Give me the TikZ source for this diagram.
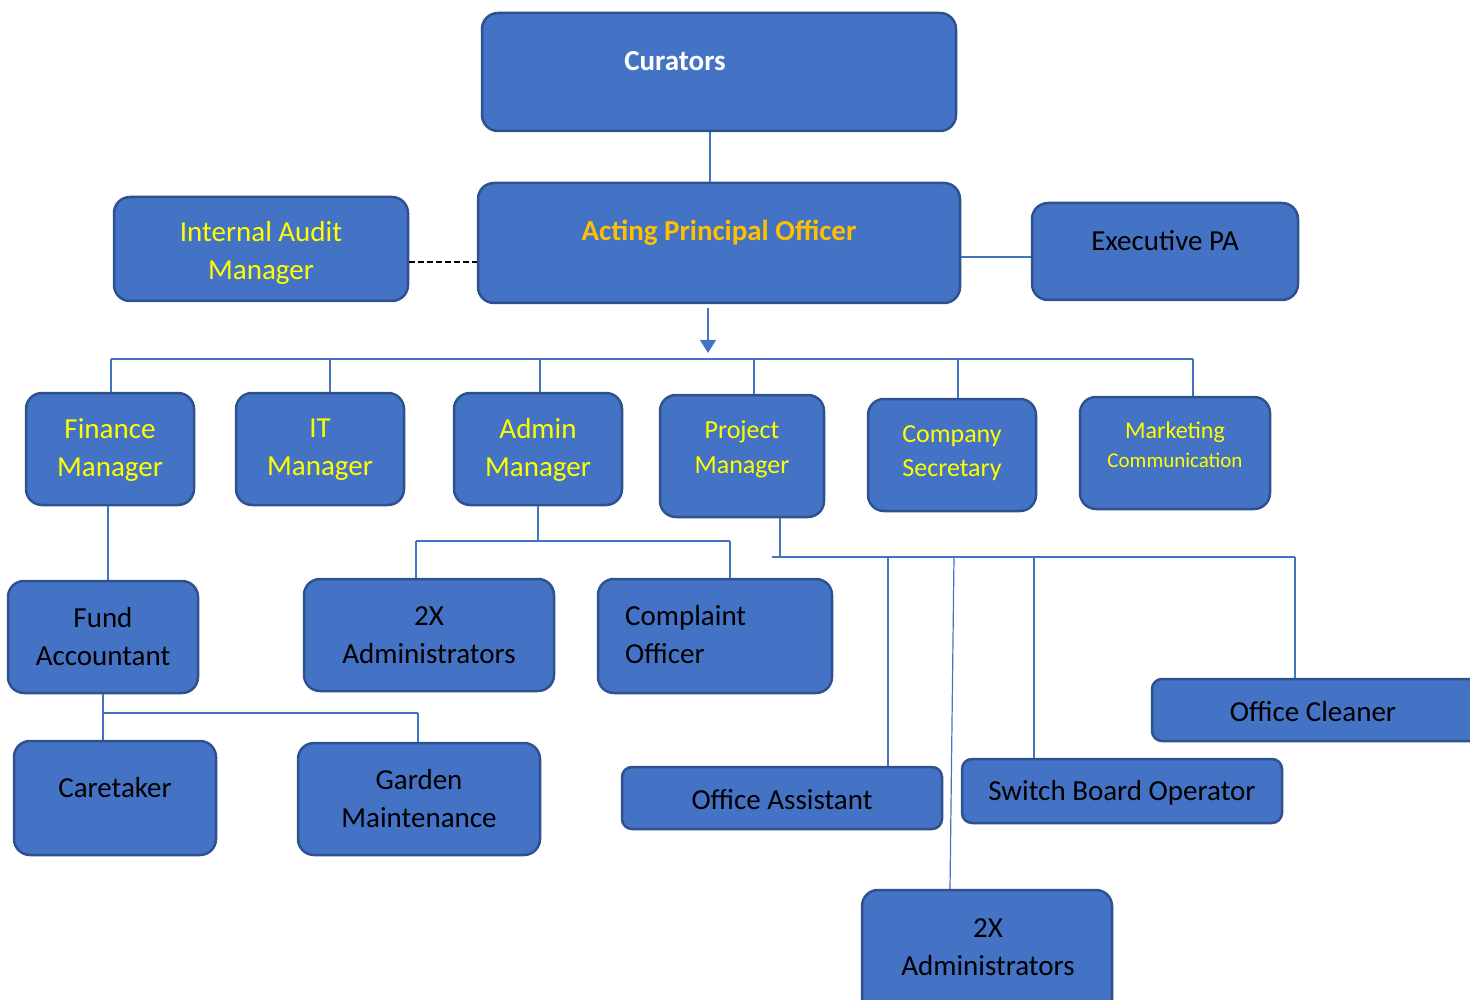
\documentclass[tikz,border=0pt]{standalone}
\usepackage{fontspec}
\setmainfont{Carlito}
\usetikzlibrary{arrows.meta}

\definecolor{boxfill}{HTML}{4472C4}
\definecolor{boxedge}{HTML}{2F528F}
\definecolor{linkblue}{HTML}{4472C4}
\definecolor{txtyellow}{HTML}{FFFF00}
\definecolor{txtorange}{HTML}{FFC000}

\begin{document}
\begin{tikzpicture}[x=1pt,y=-1pt,
  box/.style={draw=boxedge, fill=boxfill, line width=2.5pt, rounded corners=16pt, inner sep=0pt},
  link/.style={draw=linkblue, line width=1.2pt},
  dashline/.style={draw=black, line width=2.4pt, dash pattern=on 6pt off 3pt},
  bigtxt/.style={font=\fontsize{29}{38}\selectfont, align=center, inner sep=0pt},
  midtxt/.style={font=\fontsize{26}{35}\selectfont, align=center, inner sep=0pt}]

\useasboundingbox (0,0) rectangle (1470,1000);
\clip (0,0) rectangle (1470,1000);

\node[box, minimum width=474pt, minimum height=118pt] (cur) at (719,72) {};
\node[box, minimum width=482pt, minimum height=120pt] (apo) at (719,243) {};
\node[box, minimum width=294pt, minimum height=104pt] (iam) at (261,249) {};
\node[box, minimum width=266pt, minimum height=97pt] (epa) at (1165,251.5) {};

\node[box, minimum width=168pt, minimum height=112pt] (fm) at (110,449) {};
\node[box, minimum width=168pt, minimum height=112pt] (itm) at (320,449) {};
\node[box, minimum width=168pt, minimum height=112pt] (am) at (538,449) {};
\node[box, minimum width=164pt, minimum height=122pt] (pm) at (742,456) {};
\node[box, minimum width=168pt, minimum height=112pt] (cs) at (952,455) {};
\node[box, minimum width=190pt, minimum height=112pt] (mc) at (1175,453) {};

\node[box, minimum width=190pt, minimum height=112pt] (fa) at (103,637) {};
\node[box, minimum width=250pt, minimum height=112pt] (adm1) at (429,635) {};
\node[box, minimum width=234pt, minimum height=114pt] (co) at (715,636) {};

\node[box, minimum width=202pt, minimum height=114pt] (ct) at (115,798) {};
\node[box, minimum width=242pt, minimum height=112pt] (gm) at (419,799) {};
\node[box, minimum width=328pt, minimum height=62pt, rounded corners=10pt] (ocl) at (1316,710) {};
\node[box, minimum width=320pt, minimum height=62pt, rounded corners=10pt] (oa) at (782,798) {};
\node[box, minimum width=320pt, minimum height=64pt, rounded corners=10pt] (sbo) at (1122,791) {};
\node[box, minimum width=250pt, minimum height=140pt] (adm2) at (987,960) {};

% labels
\node[bigtxt, text=white, font=\fontsize{29}{38}\selectfont\bfseries] (curT) at (675,61) {Curators};
\node[bigtxt, text=txtorange, font=\fontsize{29}{38}\selectfont\bfseries] (apoT) at (719,233) {Acting Principal Officer};
\node[bigtxt, text=txtyellow] (iamT) at (261,253) {Internal Audit\\Manager};
\node[bigtxt] (epaT) at (1165,241) {Executive PA};

\node[bigtxt, text=txtyellow] (fmT) at (110,450) {Finance\\Manager};
\node[bigtxt, text=txtyellow] (itmT) at (320,450) {IT\\Manager};
\node[bigtxt, text=txtyellow] (amT) at (538,450) {Admin\\Manager};
\node[midtxt, text=txtyellow] (pmT) at (742,449) {Project\\Manager};
\node[midtxt, text=txtyellow, font=\fontsize{26}{34}\selectfont] (csT) at (952,453) {Company\\Secretary};
\node[midtxt, text=txtyellow, font=\fontsize{24}{29}\selectfont] (mcT) at (1175,445) {Marketing\\{\fontsize{21}{29}\selectfont Communication}};

\node[bigtxt] (faT) at (103,637) {Fund\\Accountant};
\node[bigtxt] (adm1T) at (429,635) {2X\\Administrators};
\node[bigtxt, align=left, anchor=west] (coT) at (625,635) {Complaint\\Officer};

\node[bigtxt] (ctT) at (115,788) {Caretaker};
\node[bigtxt] (gmT) at (419,799) {Garden\\Maintenance};
\node[bigtxt] (oclT) at (1313,712) {Office Cleaner};
\node[bigtxt] (oaT) at (782,800) {Office Assistant};
\node[bigtxt] (sboT) at (1122,793) {Switch Board Operator};
\node[bigtxt] (adm2T) at (988,947) {2X\\Administrators};

% bus lines
\coordinate (busL) at (111,359);
\coordinate (busR) at (1193,359);
\coordinate (amL) at (416,541);
\coordinate (amR) at (730,541);
\coordinate (pmL) at (772,557);
\coordinate (pmR) at (1295,557);
\coordinate (faL) at (104,713);
\coordinate (faR) at (418,713);

\draw[link] ([xshift=-9pt]cur.south) -- ([xshift=-9pt]apo.north);
\draw[dashline] ([yshift=-13pt]iam.east) -- ([yshift=-13pt]iam.east -| apo.west);
\draw[link] ([yshift=-14pt]apo.east) -- ([yshift=-14pt]apo.east -| epa.west);
\draw[link, -{Triangle[width=16pt,length=13pt]}] ([xshift=-11pt,yshift=-4pt]apo.south) -- ([xshift=-11pt,yshift=6pt]apo.south |- busL);

\draw[link] (busL) -- (busR);
\draw[link] (busL) -- (busL |- fm.north);
\draw[link] ([xshift=10pt]itm.north |- busL) -- ([xshift=10pt]itm.north);
\draw[link] ([xshift=2pt]am.north |- busL) -- ([xshift=2pt]am.north);
\draw[link] ([xshift=12pt]pm.north |- busL) -- ([xshift=12pt]pm.north);
\draw[link] ([xshift=6pt]cs.north |- busL) -- ([xshift=6pt]cs.north);
\draw[link] (busR) -- (busR |- mc.north);

\draw[link] ([xshift=-2pt]fm.south) -- ([xshift=-2pt]fm.south |- fa.north);

\draw[link] (am.south) -- (am.south |- amL);
\draw[link] (amL) -- (amR);
\draw[link] (amL) -- (amL |- adm1.north);
\draw[link] (amR) -- (amR |- co.north);

\draw[link] ([xshift=38pt]pm.south) -- ([xshift=38pt]pm.south |- pmL);
\draw[link] (pmL) -- (pmR);
\draw[link] ([xshift=106pt]oa.north |- pmL) -- ([xshift=106pt]oa.north);
\draw[link] ([xshift=-33pt]adm2.north |- pmL) -- ([xshift=-37pt]adm2.north);
\draw[link] ([xshift=-88pt]sbo.north |- pmL) -- ([xshift=-88pt]sbo.north);
\draw[link] (pmR) -- (pmR |- ocl.north);

\draw[link] (fa.south) -- (fa.south |- ct.north);
\draw[link] (faL) -- (faR);
\draw[link] (faR) -- (faR |- gm.north);

\end{tikzpicture}
\end{document}
